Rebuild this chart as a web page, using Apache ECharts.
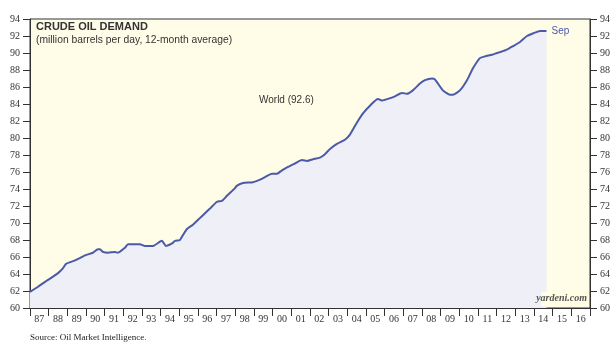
<!DOCTYPE html>
<html>
<head>
<meta charset="utf-8">
<script src="https://cdn.jsdelivr.net/npm/echarts@6/dist/echarts.min.js"></script>
<style>html,body{margin:0;padding:0;background:#fff}#c{width:615px;height:355px}</style>
</head>
<body>
<div id="c"></div>
<script>
// Decimal-year positions and values (million barrels per day)
const times = [1987.00,1987.43,1987.96,1988.50,1988.77,1988.93,1989.41,1989.95,1990.37,1990.64,1990.75,1990.91,1991.18,1991.55,1991.71,1992.09,1992.25,1992.78,1992.89,1993.16,1993.59,1993.96,1994.07,1994.28,1994.61,1994.77,1995.03,1995.20,1995.41,1995.73,1996.11,1996.64,1997.02,1997.28,1997.55,1997.98,1998.09,1998.41,1998.94,1999.32,1999.59,1999.96,2000.23,2000.50,2000.82,2001.19,2001.57,2001.84,2002.16,2002.53,2002.80,2003.07,2003.44,2003.87,2004.14,2004.51,2004.84,2005.21,2005.64,2005.85,2006.17,2006.55,2006.92,2007.19,2007.51,2007.89,2008.16,2008.53,2008.69,2009.12,2009.50,2009.66,2010.03,2010.41,2010.73,2011.10,2011.37,2011.75,2012.17,2012.55,2012.87,2013.25,2013.62,2013.94,2014.32,2014.67];
const demand = [61.9,62.5,63.3,64.1,64.7,65.2,65.6,66.2,66.5,66.9,66.9,66.6,66.5,66.6,66.5,67.1,67.5,67.5,67.5,67.3,67.3,67.8,67.9,67.3,67.6,67.9,68.0,68.6,69.3,69.8,70.6,71.7,72.5,72.6,73.2,74.1,74.4,74.7,74.8,75.1,75.4,75.8,75.8,76.2,76.6,77.0,77.4,77.3,77.5,77.7,78.1,78.7,79.3,79.8,80.4,81.8,82.9,83.8,84.6,84.4,84.6,84.9,85.3,85.2,85.6,86.4,86.8,87.0,86.9,85.6,85.1,85.1,85.6,86.8,88.2,89.4,89.6,89.8,90.1,90.4,90.8,91.3,92.0,92.3,92.6,92.6];
const yearLabels = ['87','88','89','90','91','92','93','94','95','96','97','98','99','00','01','02','03','04','05','06','07','08','09','10','11','12','13','14','15','16'];
const yMin = 60, yMax = 94, yStep = 2;
const xMin = 1987, xMax = 2017;
const titleText = 'CRUDE OIL DEMAND';
const subtitleText = '(million barrels per day, 12-month average)';
const seriesLabel = 'World (92.6)';
const endText = 'Sep';
const sourceText = 'Source: Oil Market Intelligence.';
const brandText = 'yardeni.com';

const chart = echarts.init(document.getElementById('c'), null, {renderer: 'canvas'});
const serif = 'Liberation Serif';
const lineColor = '#4a5aa9';
const yAxisCommon = {
  type: 'value', min: yMin, max: yMax, interval: yStep,
  axisLine: {show: true, lineStyle: {color: '#333', width: 1}},
  axisTick: {show: true, length: 7, lineStyle: {color: '#333'}},
  axisLabel: {fontFamily: serif, fontSize: 10, color: '#333', margin: 10},
  splitLine: {show: false}
};
chart.setOption({
  animation: false,
  backgroundColor: '#ffffff',
  grid: {left: 30, right: 25, top: 19, bottom: 47, show: true, backgroundColor: '#fffde8', borderColor: '#333', borderWidth: 1},
  xAxis: [
    {type: 'value', min: xMin, max: xMax, show: false},
    {type: 'category', data: yearLabels, boundaryGap: true, position: 'bottom',
     axisLine: {show: true, lineStyle: {color: '#333'}},
     axisTick: {show: true, interval: 0, length: 8, lineStyle: {color: '#333'}},
     axisLabel: {interval: 0, fontFamily: serif, fontSize: 10, color: '#333', margin: 6},
     splitLine: {show: false}}
  ],
  yAxis: [
    Object.assign({position: 'left'}, yAxisCommon),
    Object.assign({position: 'right'}, yAxisCommon)
  ],
  series: [{
    type: 'line', xAxisIndex: 0, yAxisIndex: 0,
    data: times.map((t, i) => [t, demand[i]]),
    showSymbol: false, smooth: 0.2,
    lineStyle: {color: lineColor, width: 2},
    areaStyle: {color: '#eeeff7', opacity: 1, origin: 'start'},
    endLabel: {show: true, formatter: endText, color: lineColor, fontFamily: 'Liberation Sans', fontSize: 10, distance: 5}
  }],
  graphic: [
    {type: 'text', z: 100, left: 36, top: 21, style: {text: titleText, font: 'bold 11px "Liberation Sans"', fill: '#333'}},
    {type: 'text', z: 100, left: 36, top: 35, style: {text: subtitleText, font: '10.3px "Liberation Sans"', fill: '#333'}},
    {type: 'text', z: 100, left: 259, top: 95, style: {text: seriesLabel, font: '10px "Liberation Sans"', fill: '#333'}},
    {type: 'rect', z: 99, shape: {x: 541, y: 292, width: 48, height: 14}, style: {fill: '#fffde2'}},
    {type: 'text', z: 100, right: 28, top: 293, style: {text: brandText, font: 'italic bold 10px "Liberation Serif"', fill: '#555'}},
    {type: 'text', z: 100, left: 30, top: 333, style: {text: sourceText, font: '9px "Liberation Serif"', fill: '#222'}}
  ]
});
</script>
</body>
</html>
